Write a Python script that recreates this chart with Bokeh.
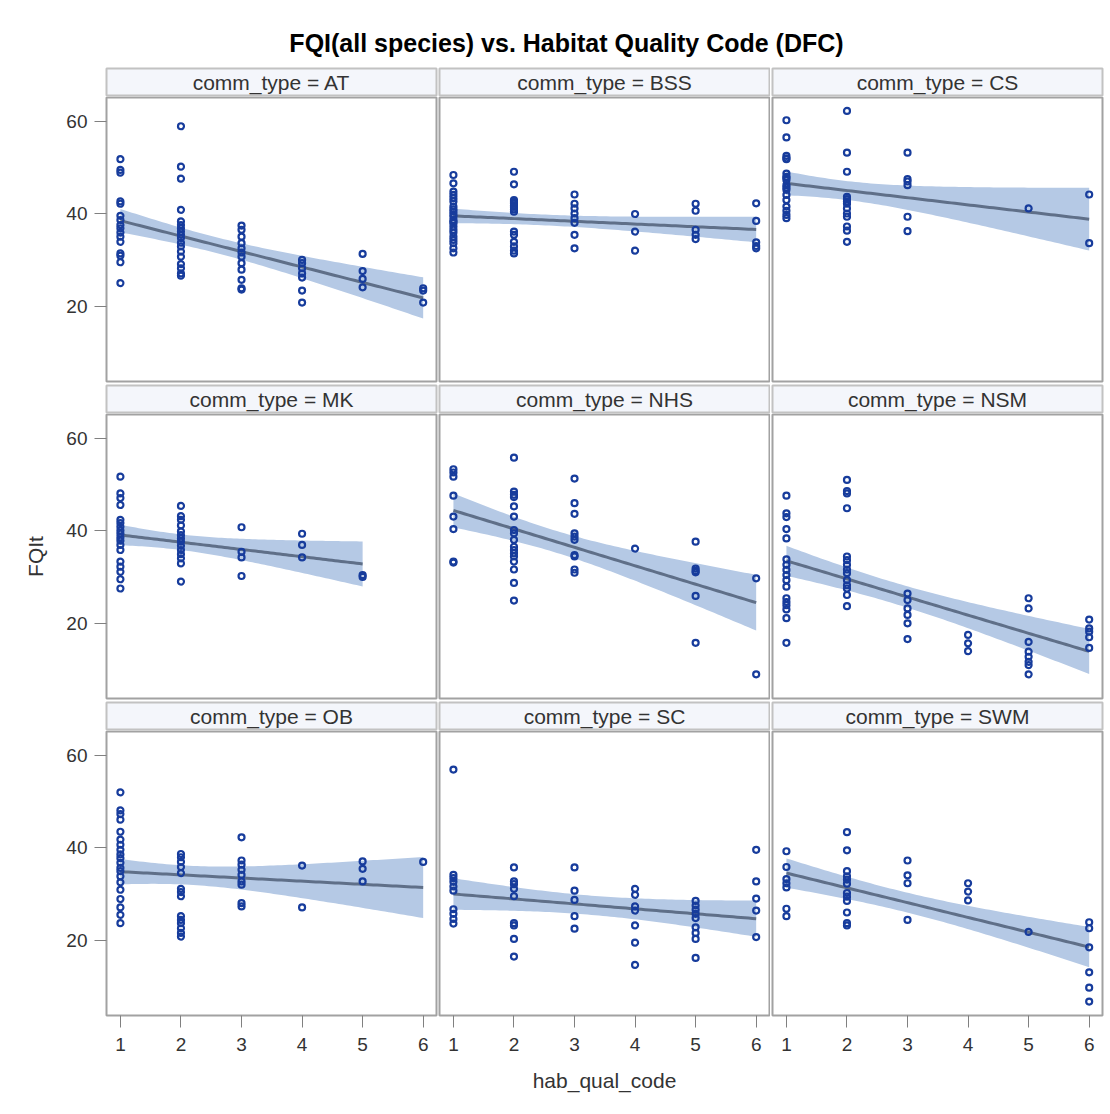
import numpy as np
from bokeh.plotting import figure
from bokeh.layouts import column, row
from bokeh.models import Range1d, FixedTicker, ColumnDataSource, Label
from bokeh.embed import file_html
from bokeh.resources import INLINE

# ---------------- data (FQIt by hab_qual_code 1..6) ----------------
comm_types = ["AT", "BSS", "CS", "MK", "NHS", "NSM", "OB", "SC", "SWM"]
hab_codes = [1, 2, 3, 4, 5, 6]
y_ticks = [20, 40, 60]

fqi_AT = [
    [51.8, 49.5, 48.9, 42.7, 42.2, 39.6, 38.7, 37.6, 36.9, 36.0, 35.1, 34.0, 31.5, 31.0, 29.6, 25.1],
    [58.9, 50.2, 47.6, 40.9, 38.4, 37.6, 36.9, 36.2, 35.5, 34.8, 33.8, 33.0, 31.9, 30.8, 29.2, 28.3, 27.2, 26.7],
    [37.5, 36.6, 35.1, 33.7, 32.6, 31.7, 30.8, 29.4, 28.0, 25.8, 24.0, 23.7],
    [30.1, 29.4, 28.3, 27.2, 26.3, 23.5, 20.9],
    [31.4, 27.7, 26.0, 24.2],
    [24.0, 23.5, 20.9],
]
fqi_BSS = [
    [48.4, 46.6, 44.8, 44.1, 43.4, 42.7, 41.6, 41.0, 40.5, 39.9, 39.4, 38.7, 38.3, 38.0, 37.3, 36.6, 36.0, 35.1, 34.4, 33.7, 32.6, 31.7],
    [49.1, 46.4, 43.0, 42.6, 42.2, 41.8, 41.5, 41.0, 40.5, 36.2, 35.5, 34.0, 33.0, 32.1, 31.5],
    [44.2, 42.2, 41.2, 40.1, 39.1, 38.1, 35.5, 32.6],
    [40.0, 36.2, 32.1],
    [42.2, 40.7, 36.6, 35.5, 34.6],
    [42.3, 38.5, 33.9, 33.1, 32.6],
]
fqi_CS = [
    [60.2, 56.5, 52.5, 52.0, 51.8, 48.7, 48.0, 47.8, 47.3, 46.2, 45.7, 45.2, 44.1, 43.0, 41.6, 40.7, 39.8, 39.1],
    [62.2, 53.2, 49.1, 43.7, 43.2, 42.7, 42.2, 41.2, 40.1, 39.4, 37.3, 36.4, 34.0],
    [53.2, 47.5, 47.0, 46.2, 39.4, 36.3],
    [],
    [41.2],
    [44.2, 33.7],
]
fqi_MK = [
    [51.7, 48.1, 47.1, 45.6, 42.4, 41.7, 40.9, 40.1, 39.4, 38.6, 37.9, 37.0, 35.9, 33.4, 32.3, 31.2, 29.6, 27.6],
    [45.4, 43.2, 42.4, 41.2, 39.9, 39.1, 38.4, 37.7, 36.8, 35.9, 35.0, 34.1, 33.0, 29.1],
    [40.8, 35.5, 34.3, 30.3],
    [39.4, 37.0, 34.3],
    [30.5, 30.1],
    [],
]
fqi_NHS = [
    [53.3, 52.6, 51.7, 47.6, 43.1, 40.4, 33.4, 33.2],
    [55.8, 48.5, 47.8, 47.3, 45.3, 43.1, 40.2, 39.5, 38.1, 36.6, 35.9, 35.2, 34.5, 33.4, 31.7, 28.8, 25.0],
    [51.3, 46.0, 43.7, 39.5, 38.8, 38.1, 34.8, 34.5, 31.7, 31.0],
    [36.2],
    [37.7, 31.9, 31.4, 31.1, 26.0, 15.9],
    [29.8, 9.1],
]
fqi_NSM = [
    [47.6, 43.8, 43.0, 40.4, 38.4, 33.9, 32.7, 31.6, 30.5, 29.4, 28.0, 25.5, 24.7, 24.0, 23.1, 21.2, 15.9],
    [51.0, 48.6, 48.1, 44.9, 34.5, 33.7, 32.7, 31.7, 30.9, 29.4, 28.3, 27.6, 26.2, 23.8],
    [26.5, 25.1, 23.3, 21.9, 20.1, 16.7],
    [17.6, 15.8, 14.1],
    [25.5, 23.3, 16.1, 14.0, 12.9, 11.8, 11.1, 9.1],
    [20.9, 19.0, 18.3, 17.1, 14.8],
]
fqi_OB = [
    [52.0, 48.1, 47.3, 46.1, 43.5, 41.8, 40.7, 39.6, 38.6, 37.8, 36.8, 35.7, 35.0, 33.9, 32.6, 31.0, 29.0, 27.2, 25.6, 23.8],
    [38.7, 38.0, 37.0, 35.9, 34.6, 31.2, 30.5, 29.6, 25.3, 24.5, 23.8, 22.7, 21.7, 20.9],
    [42.3, 37.3, 36.4, 35.3, 34.2, 32.8, 32.1, 28.1, 27.4],
    [36.2, 27.2],
    [37.1, 35.5, 32.8],
    [37.0],
]
fqi_SC = [
    [56.9, 34.2, 33.5, 32.7, 31.7, 30.8, 26.8, 25.8, 24.7, 23.7],
    [35.8, 32.8, 32.2, 31.2, 29.6, 23.8, 23.3, 20.4, 16.6],
    [35.8, 30.8, 28.8, 25.3, 22.6],
    [31.2, 29.9, 27.4, 26.5, 23.3, 19.6, 14.8],
    [28.6, 27.6, 26.7, 25.8, 24.9, 22.9, 21.7, 20.4, 16.3],
    [39.6, 32.8, 29.1, 26.5, 20.8],
]
fqi_SWM = [
    [39.3, 35.9, 33.3, 32.4, 31.5, 26.9, 25.3],
    [43.4, 39.5, 35.0, 33.9, 33.2, 32.3, 30.3, 29.5, 28.6, 26.1, 23.8, 23.3],
    [37.3, 34.1, 32.4, 24.5],
    [32.4, 30.6, 28.7],
    [21.9],
    [24.0, 22.7, 18.6, 13.2, 9.9, 6.9],
]
panel_data = [fqi_AT, fqi_BSS, fqi_CS, fqi_MK, fqi_NHS, fqi_NSM, fqi_OB, fqi_SC, fqi_SWM]

# ---------------- styles ----------------
FONT = "Liberation Sans"
MARKER = "#173c9c"
FITLINE = "#5f6f88"
BAND = "#b5c9e5"
FRAME = "#a2a2a2"
HEADER_FILL = "#f4f6fb"
HEADER_LINE = "#c2c2c2"
TEXT = "#333333"

col_w = [438, 332, 338]
col_l = [106, 1, 2]
col_r = [2, 1, 6]
FRAME_H = 284
X_RANGE = (0.77, 6.22)
Y_RANGE = (3.9, 65.1)


def t975(df):
    z = 1.959963985
    return (z + (z**3 + z) / (4 * df) + (5 * z**5 + 16 * z**3 + 3 * z) / (96 * df**2)
            + (3 * z**7 + 19 * z**5 + 17 * z**3 - 15 * z) / (384 * df**3))


def reg_fit(x, y):
    x = np.asarray(x, float)
    y = np.asarray(y, float)
    n = len(x)
    xbar = x.mean()
    sxx = ((x - xbar) ** 2).sum()
    b = ((x - xbar) * (y - y.mean())).sum() / sxx
    a = y.mean() - b * xbar
    s = np.sqrt(((y - (a + b * x)) ** 2).sum() / (n - 2))
    g = np.linspace(x.min(), x.max(), 80)
    yh = a + b * g
    hw = t975(n - 2) * s * np.sqrt(1.0 / n + (g - xbar) ** 2 / sxx)
    return g, yh, yh - hw, yh + hw


def base_fig(width, height, left, right, top, bottom, xr, yr, xloc=None, yloc=None):
    p = figure(width=width, height=height, x_range=Range1d(*xr), y_range=Range1d(*yr),
               min_border_left=left, min_border_right=right, min_border_top=top,
               min_border_bottom=bottom, toolbar_location=None, output_backend="svg",
               title=None, x_axis_location=xloc, y_axis_location=yloc)
    p.grid.visible = False
    p.border_fill_color = "white"
    return p


def header_fig(c, name):
    h = base_fig(col_w[c], 29, col_l[c], col_r[c], 1, 1, (0, 1), (0, 1))
    h.background_fill_color = HEADER_FILL
    h.outline_line_color = HEADER_LINE
    h.outline_line_width = 2
    h.add_layout(Label(x=0.5, y=0.5, text="comm_type = " + name, text_align="center",
                       text_baseline="middle", text_font=FONT, text_font_size="21px",
                       text_color=TEXT))
    return h


def style_axis(ax):
    ax.axis_line_color = None
    ax.major_tick_in = 0
    ax.major_tick_out = 12
    ax.major_tick_line_color = "#808080"
    ax.major_tick_line_width = 1
    ax.minor_tick_line_color = None
    ax.major_label_text_font = FONT
    ax.major_label_text_font_size = "19px"
    ax.major_label_text_color = TEXT
    ax.axis_label_text_font = FONT
    ax.axis_label_text_font_size = "21px"
    ax.axis_label_text_font_style = "normal"
    ax.axis_label_text_color = TEXT


def panel_fig(idx):
    r, c = divmod(idx, 3)
    bottom = 3 if r < 2 else 98
    p = base_fig(col_w[c], 1 + FRAME_H + bottom, col_l[c], col_r[c], 1, bottom,
                 X_RANGE, Y_RANGE,
                 xloc="below" if r == 2 else None, yloc="left" if c == 0 else None)
    p.outline_line_color = FRAME
    p.outline_line_width = 2
    if c == 0:
        ax = p.yaxis[0]
        style_axis(ax)
        ax.ticker = FixedTicker(ticks=y_ticks)
        ax.major_label_standoff = 7
        if r == 1:
            ax.axis_label = "FQIt"
            ax.axis_label_standoff = 16
    if r == 2:
        ax = p.xaxis[0]
        style_axis(ax)
        ax.ticker = FixedTicker(ticks=hab_codes)
        ax.major_label_standoff = 10
        if c == 1:
            ax.axis_label = "hab_qual_code"
            ax.axis_label_standoff = 15

    groups = panel_data[idx]
    xs, ys = [], []
    for code, vals in zip(hab_codes, groups):
        xs += [code] * len(vals)
        ys += vals
    g, yh, lo, hi = reg_fit(xs, ys)
    fit_src = ColumnDataSource(dict(x=g, y=yh, lo=lo, hi=hi))
    p.varea(x="x", y1="lo", y2="hi", source=fit_src, fill_color=BAND, fill_alpha=1.0)
    p.line(x="x", y="y", source=fit_src, line_color=FITLINE, line_width=3)
    p.scatter(x=xs, y=ys, marker="circle", size=6, fill_color=None,
              line_color=MARKER, line_width=2.2)
    return p


# title
title_fig = base_fig(1108, 67, 0, 0, 0, 0, (0, 1108), (0, 67))
title_fig.outline_line_color = None
title_fig.add_layout(Label(x=566, y=25, text="FQI(all species) vs. Habitat Quality Code (DFC)",
                           text_align="center", text_baseline="middle", text_font=FONT,
                           text_font_size="25px", text_font_style="bold", text_color="black"))

rows = [title_fig]
for r in range(3):
    rows.append(row([header_fig(c, comm_types[r * 3 + c]) for c in range(3)], spacing=0))
    rows.append(row([panel_fig(r * 3 + c) for c in range(3)], spacing=0))

layout = column(rows, spacing=0)

open("out.html", "w").write(file_html(layout, INLINE))
